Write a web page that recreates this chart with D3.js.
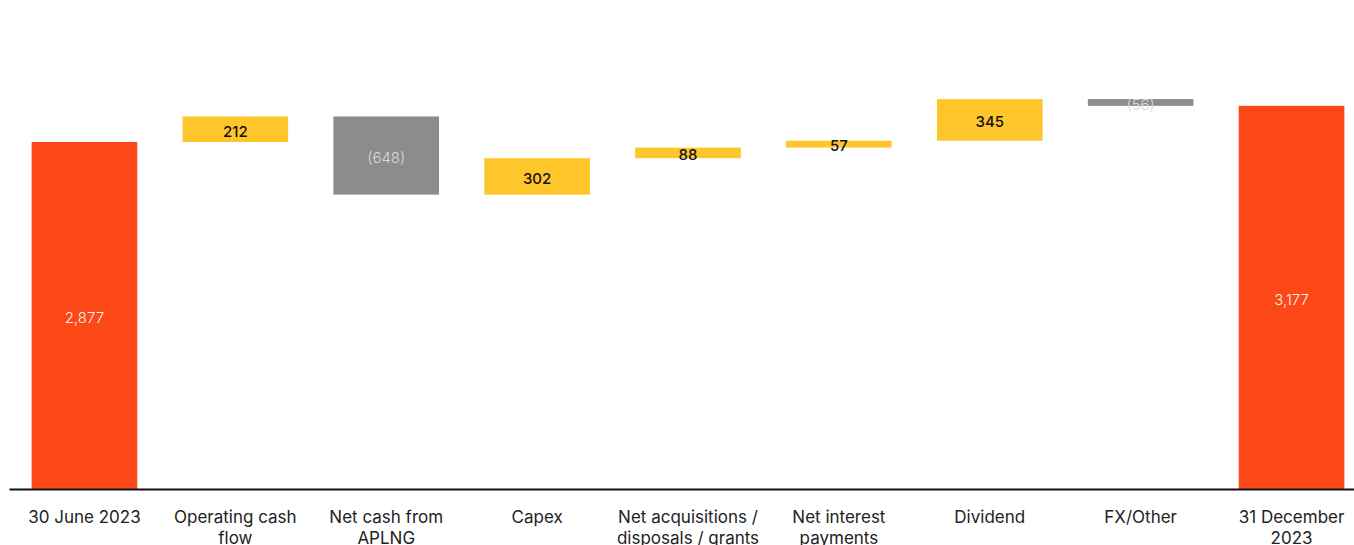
<!DOCTYPE html>
<html>
<head>
<meta charset="utf-8">
<script src="https://cdn.jsdelivr.net/npm/d3@7"></script>
<style>
  html, body { margin: 0; padding: 0; background: #fff; }
  svg { display: block; font-family: Inter, "Open Sans", sans-serif; }
</style>
</head>
<body>
<svg id="chart" width="1354" height="545"></svg>
<script>
// Net debt bridge, 30 June 2023 to 31 December 2023
const categories = [
  "30 June 2023",
  "Operating cash\nflow",
  "Net cash from\nAPLNG",
  "Capex",
  "Net acquisitions /\ndisposals / grants",
  "Net interest\npayments",
  "Dividend",
  "FX/Other",
  "31 December\n2023"
];
const values = [2877, 212, -648, 302, 88, 57, 345, -56, 3177];
const kinds = ["total", "step", "step", "step", "step", "step", "step", "step", "total"];

const colors = { total: "#FC4717", up: "#FFC62C", down: "#8C8C8C" };

// running totals for the floating bars
let running = 0;
const bars = categories.map((c, i) => {
  const v = values[i];
  let y0, y1;
  if (kinds[i] === "total") {
    y0 = 0; y1 = v; running = v;
  } else {
    y0 = running; y1 = running + v; running = y1;
  }
  const kind = kinds[i] === "total" ? "total" : (v >= 0 ? "up" : "down");
  return { cat: c, value: v, y0, y1, kind };
});

const svg = d3.select("#chart");
const baseY = 489;

const x = d3.scaleBand()
  .domain(categories)
  .range([9, 1367])
  .paddingInner(0.3)
  .paddingOuter(0.15);

const y = d3.scaleLinear()
  .domain([0, 3500])
  .range([baseY, baseY - 3500 * 0.1206]);

// bars
svg.append("g")
  .selectAll("rect")
  .data(bars)
  .join("rect")
  .attr("x", d => x(d.cat))
  .attr("width", x.bandwidth())
  .attr("y", d => y(Math.max(d.y0, d.y1)))
  .attr("height", d => Math.abs(y(d.y0) - y(d.y1)))
  .attr("fill", d => colors[d.kind]);

// value labels
const fmt = d3.format(",");
svg.append("g")
  .selectAll("text")
  .data(bars)
  .join("text")
  .attr("x", d => x(d.cat) + x.bandwidth() / 2)
  .attr("y", d => (y(d.y0) + y(d.y1)) / 2 + 2)
  .attr("dy", "0.35em")
  .attr("text-anchor", "middle")
  .attr("font-size", 15)
  .attr("font-weight", d => d.kind === "up" ? 500 : 300)
  .attr("fill", d => d.kind === "up" ? "#111" : (d.kind === "total" ? "#f4f4f4" : "#d9d9d9"))
  .text(d => d.value < 0 ? "(" + fmt(-d.value) + ")" : fmt(d.value));

// category axis
const axis = svg.append("g")
  .attr("transform", `translate(0,${baseY})`)
  .call(d3.axisBottom(x).tickSize(0).tickSizeOuter(0).tickPadding(0));

axis.select(".domain").attr("stroke", "#111").attr("stroke-width", 2);

axis.selectAll(".tick text").each(function(d) {
  const t = d3.select(this);
  t.text(null)
    .attr("y", 0)
    .attr("dy", null)
    .attr("font-size", 17)
    .attr("font-family", "Inter, 'Open Sans', sans-serif")
    .attr("fill", "#222");
  d.split("\n").forEach((line, i) => {
    t.append("tspan")
      .attr("x", 0)
      .attr("y", 34 + i * 21)
      .text(line);
  });
});
</script>
</body>
</html>
